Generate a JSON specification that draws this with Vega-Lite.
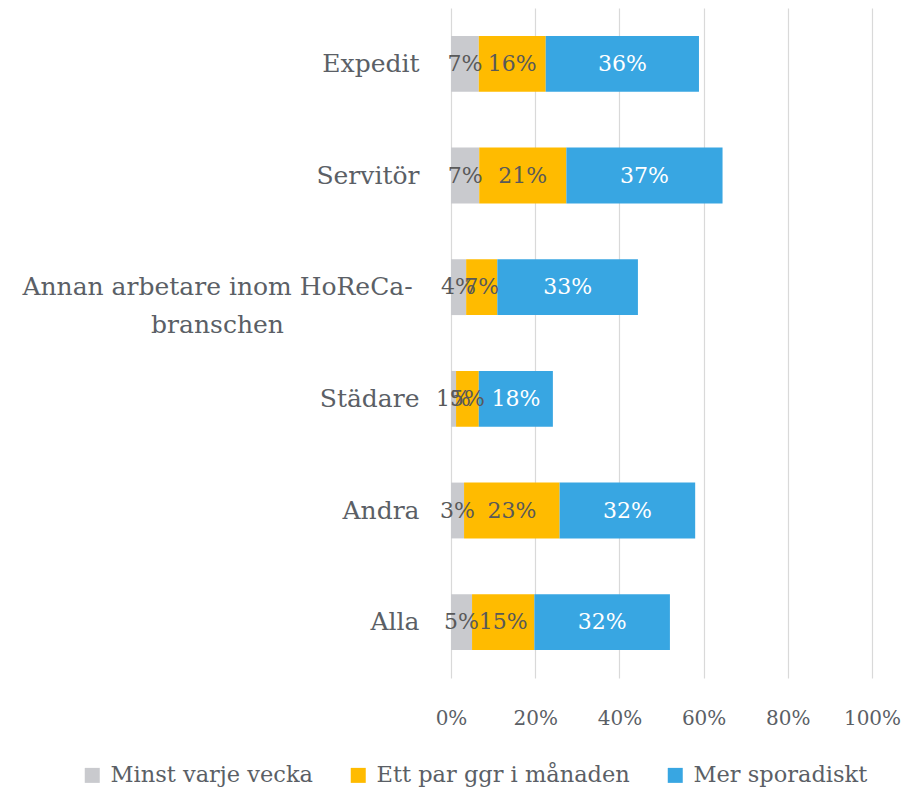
{
  "$schema": "https://vega.github.io/schema/vega-lite/v6.json",
  "autosize": {"type": "none"},
  "padding": {"left": 451, "top": 8, "right": 32, "bottom": 114},
  "width": 421,
  "height": 670,
  "background": "white",
  "config": {
    "font": "DejaVu Serif",
    "view": {"stroke": null}
  },
  "data": {
    "values": [
      {"yrke": "Expedit", "serie": "Minst varje vecka", "ordning": 1, "andel": 0.066},
      {"yrke": "Expedit", "serie": "Ett par ggr i månaden", "ordning": 2, "andel": 0.159},
      {"yrke": "Expedit", "serie": "Mer sporadiskt", "ordning": 3, "andel": 0.364},
      {"yrke": "Servitör", "serie": "Minst varje vecka", "ordning": 1, "andel": 0.067},
      {"yrke": "Servitör", "serie": "Ett par ggr i månaden", "ordning": 2, "andel": 0.207},
      {"yrke": "Servitör", "serie": "Mer sporadiskt", "ordning": 3, "andel": 0.371},
      {"yrke": "Annan arbetare inom HoReCa-branschen", "serie": "Minst varje vecka", "ordning": 1, "andel": 0.036},
      {"yrke": "Annan arbetare inom HoReCa-branschen", "serie": "Ett par ggr i månaden", "ordning": 2, "andel": 0.074},
      {"yrke": "Annan arbetare inom HoReCa-branschen", "serie": "Mer sporadiskt", "ordning": 3, "andel": 0.334},
      {"yrke": "Städare", "serie": "Minst varje vecka", "ordning": 1, "andel": 0.012},
      {"yrke": "Städare", "serie": "Ett par ggr i månaden", "ordning": 2, "andel": 0.054},
      {"yrke": "Städare", "serie": "Mer sporadiskt", "ordning": 3, "andel": 0.176},
      {"yrke": "Andra", "serie": "Minst varje vecka", "ordning": 1, "andel": 0.031},
      {"yrke": "Andra", "serie": "Ett par ggr i månaden", "ordning": 2, "andel": 0.227},
      {"yrke": "Andra", "serie": "Mer sporadiskt", "ordning": 3, "andel": 0.322},
      {"yrke": "Alla", "serie": "Minst varje vecka", "ordning": 1, "andel": 0.050},
      {"yrke": "Alla", "serie": "Ett par ggr i månaden", "ordning": 2, "andel": 0.148},
      {"yrke": "Alla", "serie": "Mer sporadiskt", "ordning": 3, "andel": 0.322}
    ]
  },
  "transform": [
    {"stack": "andel", "groupby": ["yrke"], "sort": [{"field": "ordning", "order": "ascending"}], "as": ["x0", "x1"]},
    {"calculate": "(datum.x0 + datum.x1) / 2", "as": "mitt"}
  ],
  "encoding": {
    "y": {
      "field": "yrke",
      "type": "nominal",
      "sort": ["Expedit", "Servitör", "Annan arbetare inom HoReCa-branschen", "Städare", "Andra", "Alla"],
      "scale": {"paddingInner": 0.5, "paddingOuter": 0.25},
      "axis": {
        "title": null,
        "domain": false,
        "ticks": false,
        "labelFontSize": 25,
        "labelColor": "#5B5F66",
        "labelLimit": 600,
        "labelLineHeight": 38,
        "labelExpr": "datum.label == 'Annan arbetare inom HoReCa-branschen' ? ['Annan arbetare inom HoReCa-', 'branschen'] : datum.label",
        "labelAlign": {"condition": {"test": "datum.value == 'Annan arbetare inom HoReCa-branschen'", "value": "center"}, "value": "right"},
        "labelPadding": {"condition": {"test": "datum.value == 'Annan arbetare inom HoReCa-branschen'", "value": 234}, "value": 32}
      }
    }
  },
  "layer": [
    {
      "mark": {"type": "bar"},
      "encoding": {
        "x": {
          "field": "x0",
          "type": "quantitative",
          "scale": {"domain": [0, 1], "nice": false},
          "axis": {
            "title": null,
            "format": ".0%",
            "values": [0, 0.2, 0.4, 0.6, 0.8, 1],
            "domain": false,
            "ticks": false,
            "grid": true,
            "gridColor": "#D9D9D9",
            "gridWidth": 1.2,
            "labelFontSize": 20,
            "labelColor": "#5B5F66",
            "labelPadding": 30,
            "labelFlush": false
          }
        },
        "x2": {"field": "x1"},
        "color": {
          "field": "serie",
          "type": "nominal",
          "scale": {
            "domain": ["Minst varje vecka", "Ett par ggr i månaden", "Mer sporadiskt"],
            "range": ["#C9CACE", "#FFBB00", "#38A6E2"]
          },
          "legend": {
            "title": null,
            "orient": "none",
            "direction": "horizontal",
            "legendX": -370,
            "legendY": 756,
            "padding": 0,
            "symbolType": "square",
            "symbolSize": 225,
            "symbolStrokeWidth": 0,
            "symbolOpacity": 1,
            "labelFontSize": 22.5,
            "labelColor": "#5B5F66",
            "labelOffset": 7,
            "labelLimit": 400,
            "columnPadding": 34
          }
        }
      }
    },
    {
      "mark": {"type": "text", "fontSize": 22, "align": "center", "baseline": "middle"},
      "encoding": {
        "x": {"field": "mitt", "type": "quantitative"},
        "text": {"field": "andel", "type": "quantitative", "format": ".0%"},
        "color": {"condition": {"test": "datum.serie == 'Mer sporadiskt'", "value": "white"}, "value": "#595959"}
      }
    }
  ]
}
